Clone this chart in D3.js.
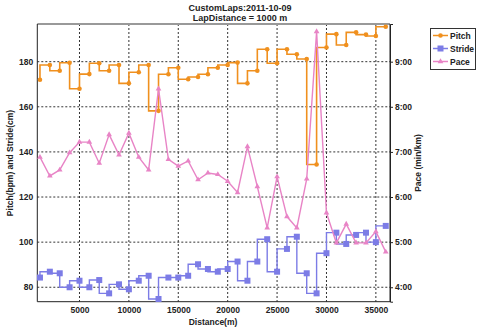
<!DOCTYPE html>
<html><head><meta charset="utf-8">
<script src="https://cdn.jsdelivr.net/npm/d3@7"></script>
<style>
html,body{margin:0;padding:0;background:#fff;}
text{font-family:"Liberation Sans",Arial,sans-serif;font-weight:bold;fill:#222;}
</style></head>
<body><svg id="c" width="480" height="329"></svg>
<script>
const title1 = "CustomLaps:2011-10-09";
const title2 = "LapDistance = 1000 m";
const distances = [1000,2000,3000,4000,5000,6000,7000,8000,9000,10000,11000,12000,13000,14000,15000,16000,17000,18000,19000,20000,21000,22000,23000,24000,25000,26000,27000,28000,29000,30000,31000,32000,33000,34000,35000,36000];
const pitch = [172,178.5,176,179.5,168,174.5,179.3,176,178.5,170.4,175.3,178.5,158.2,174.4,177.3,172.2,173.2,174.4,177.3,178.5,179.6,170.4,176,185.5,179.3,185.5,183.3,181.2,134.4,186.3,192.2,187.4,193,192,191.4,195.5];
const stride = [84.3,86.9,86.2,80,82.9,80,83.2,77.3,81.3,79.1,82.9,85.1,74.8,84.3,84.3,85.1,90.2,88.1,86.9,88.1,91.4,82.9,91.4,101.3,86.9,97,102.4,86.2,77.3,95.1,104.2,99.2,103.2,104.2,100,107.2];
const pace = ["6:53","6:28","6:36","6:59","7:13","7:13","6:45","7:23","6:56","7:25","6:53","6:36","8:24","6:50","6:41","6:48","6:23","6:32","6:30","6:21","6:06","7:07","6:14","5:19","6:27","5:34","5:19","6:24","9:40","5:39","4:59","5:24","4:59","4:59","5:14","4:47"];
const xTicks = [5000,10000,15000,20000,25000,30000,35000];
const leftTicks = [80,100,120,140,160,180];
const rightTicks = [4,5,6,7,8,9];
const legendNames = ["Pitch","Stride","Pace"];
const colors = {Pitch:"#f0901e", Stride:"#7c7ce6", Pace:"#e884c6"};

const svg = d3.select("#c");
const L=37.3, R=390, T=24, B=301.7;
const x = d3.scaleLinear().domain([730,36430]).range([L,R]);
const yL = d3.scaleLinear().domain([73.6,196.7]).range([B,T]);
const yR = d3.scaleLinear().domain([3.68,9.835]).range([B,T]);
const toMin = s => { const p=s.split(":"); return +p[0] + (+p[1])/60; };

// gridlines
const g = svg.append("g");
g.selectAll("line.v").data(xTicks).join("line")
  .attr("x1",d=>x(d)).attr("x2",d=>x(d)).attr("y1",T).attr("y2",B)
  .attr("stroke","#333").attr("stroke-width",1).attr("stroke-dasharray","2,2");
g.selectAll("line.h").data(leftTicks).join("line")
  .attr("x1",L).attr("x2",R).attr("y1",d=>yL(d)).attr("y2",d=>yL(d))
  .attr("stroke","#333").attr("stroke-width",1).attr("stroke-dasharray","2,2");

// borders
svg.append("line").attr("x1",L).attr("x2",R).attr("y1",T).attr("y2",T).attr("stroke","#999").attr("stroke-width",2);
svg.append("line").attr("x1",L).attr("x2",L).attr("y1",T).attr("y2",B).attr("stroke","#222");
svg.append("line").attr("x1",L).attr("x2",R).attr("y1",B).attr("y2",B).attr("stroke","#222");

// axes
const axB = svg.append("g").attr("transform",`translate(0,${B})`)
  .call(d3.axisBottom(x).tickValues(xTicks).tickSize(0).tickPadding(5).tickFormat(d3.format("d")));
const axL = svg.append("g").attr("transform",`translate(${L},0)`)
  .call(d3.axisLeft(yL).tickValues(leftTicks).tickSize(0).tickPadding(4));
const axR = svg.append("g").attr("transform",`translate(${R},0)`)
  .call(d3.axisRight(yR).tickValues(rightTicks).tickSize(3).tickPadding(2).tickFormat(d=>d+":00"));
[axB,axL,axR].forEach(a=>{
  a.selectAll("text").style("font-size","8.5px").style("font-family","Liberation Sans, Arial").style("font-weight","bold").attr("fill","#222");
  a.select(".domain").attr("stroke","#222");
});
axB.select(".domain").remove(); axL.select(".domain").remove();
axR.selectAll(".tick line").attr("stroke","#222");

// series
const stepLine = (vals) => d3.line().curve(d3.curveStepBefore)
  .x((d,i)=>x(distances[i])).y(d=>yL(d))(vals);
svg.append("path").attr("d",stepLine(pitch)).attr("fill","none").attr("stroke",colors.Pitch).attr("stroke-width",1.6);
svg.append("g").selectAll("circle").data(pitch).join("circle")
  .attr("cx",(d,i)=>x(distances[i])).attr("cy",d=>yL(d)).attr("r",2.3).attr("fill",colors.Pitch);

svg.append("path").attr("d",stepLine(stride)).attr("fill","none").attr("stroke",colors.Stride).attr("stroke-width",1.4);
svg.append("g").selectAll("rect").data(stride).join("rect")
  .attr("x",(d,i)=>x(distances[i])-3).attr("y",d=>yL(d)-3).attr("width",6).attr("height",6).attr("fill",colors.Stride);

const paceMin = pace.map(toMin);
svg.append("path").attr("d",d3.line().x((d,i)=>x(distances[i])).y(d=>yR(d))(paceMin))
  .attr("fill","none").attr("stroke",colors.Pace).attr("stroke-width",1.4);
const tri = d3.symbol().type(d3.symbolTriangle).size(14);
svg.append("g").selectAll("path").data(paceMin).join("path")
  .attr("d",tri).attr("transform",(d,i)=>`translate(${x(distances[i])},${yR(d)})`).attr("fill",colors.Pace);

// right border on top
svg.append("line").attr("x1",R).attr("x2",R).attr("y1",T).attr("y2",B).attr("stroke","#222");

// titles
svg.append("text").attr("x",240).attr("y",11).attr("text-anchor","middle").style("font-size","9px").text(title1);
svg.append("text").attr("x",240).attr("y",21).attr("text-anchor","middle").style("font-size","9px").text(title2);
svg.append("text").attr("x",213).attr("y",325).attr("text-anchor","middle").style("font-size","8.5px").text("Distance(m)");
svg.append("text").attr("transform","translate(13,163) rotate(-90)").attr("text-anchor","middle").style("font-size","8.5px").text("Pitch(bpm) and Stride(cm)");
svg.append("text").attr("transform","translate(421,163) rotate(-90)").attr("text-anchor","middle").style("font-size","8.5px").text("Pace (min/km)");

// legend
const lg = svg.append("g");
lg.append("rect").attr("x",430.5).attr("y",28.5).attr("width",45).attr("height",41).attr("fill","#fff").attr("stroke","#333");
legendNames.forEach((n,i)=>{
  const yy = 35.5 + i*13;
  lg.append("line").attr("x1",433).attr("x2",448).attr("y1",yy).attr("y2",yy).attr("stroke",colors[n]).attr("stroke-width",1.5);
  if(n==="Pitch") lg.append("circle").attr("cx",440.5).attr("cy",yy).attr("r",2.3).attr("fill",colors[n]);
  if(n==="Stride") lg.append("rect").attr("x",437.5).attr("y",yy-3).attr("width",6).attr("height",6).attr("fill",colors[n]);
  if(n==="Pace") lg.append("path").attr("d",tri).attr("transform",`translate(440.5,${yy})`).attr("fill",colors[n]);
  lg.append("text").attr("x",450).attr("y",yy+3).style("font-size","8.5px").text(n);
});
</script></body></html>
